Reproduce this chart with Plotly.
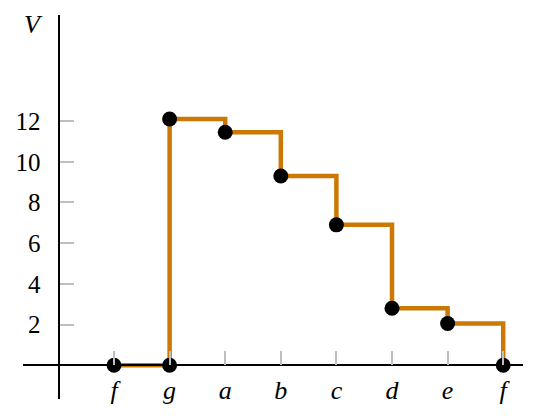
import plotly.graph_objects as go

# categories along the x axis (positions 0..7)
categories = ["f", "g", "a", "b", "c", "d", "e", "f"]
# step-path points: (category index, V)
point_idx = [0, 1, 1, 2, 3, 4, 5, 6, 7]
point_v = [0, 0, 12.1, 11.45, 9.3, 6.9, 2.8, 2.05, 0]
y_ticks = [2, 4, 6, 8, 10, 12]

orange = "rgb(204,120,4)"
tick_grey = "rgb(190,190,190)"
font_family = "Liberation Serif, DejaVu Serif, serif"

# page body has an 8px default margin; figure is sized/offset to compensate
OFF = 8
W, H = 540 - OFF, 420 - OFF
L, T = 23 - OFF, 15 - OFF
PW, PH = 500, 384  # plot area size (page coords 23..523, 15..399)
R, B = W - L - PW, H - T - PH

fig = go.Figure()
fig.add_trace(go.Scatter(
    x=point_idx, y=point_v, mode="lines",
    line=dict(color=orange, width=4.5, shape="hv"),
    hoverinfo="skip", showlegend=False, cliponaxis=False,
))
fig.add_trace(go.Scatter(
    x=point_idx, y=point_v, mode="markers",
    marker=dict(color="black", size=15),
    showlegend=False, cliponaxis=False,
))

fig.update_layout(
    width=W, height=H,
    margin=dict(l=L, r=R, t=T, b=B, pad=0),
    paper_bgcolor="white", plot_bgcolor="white",
    font=dict(family=font_family, color="black"),
    xaxis=dict(
        range=[-1.637, 7.356], showgrid=False, zeroline=False,
        showline=True, linecolor="black", linewidth=1.5,
        anchor="free", position=(399 - 365.3) / PH,
        tickmode="array", tickvals=list(range(len(categories))),
        ticktext=[f"<i>{c}</i>" for c in categories],
        ticks="inside", ticklen=14, tickwidth=1.5, tickcolor=tick_grey,
        tickfont=dict(size=26, family=font_family),
        ticklabelstandoff=2,
    ),
    yaxis=dict(
        range=[-1.656, 17.21], showgrid=False, zeroline=False,
        showline=True, linecolor="black", linewidth=1.5,
        anchor="free", position=(59.3 - 23) / PW,
        tickmode="array", tickvals=y_ticks,
        ticktext=[str(v) for v in y_ticks],
        ticks="inside", ticklen=14, tickwidth=1.5, tickcolor=tick_grey,
        tickfont=dict(size=25, family=font_family),
        ticklabelstandoff=13,
    ),
    annotations=[dict(
        text="<i>V</i>", xref="paper", yref="paper",
        x=(33 - 23) / PW, y=(399 - 25) / PH,
        showarrow=False, font=dict(size=26, family=font_family),
        xanchor="center", yanchor="middle",
    )],
)

fig.write_html("out.html")
